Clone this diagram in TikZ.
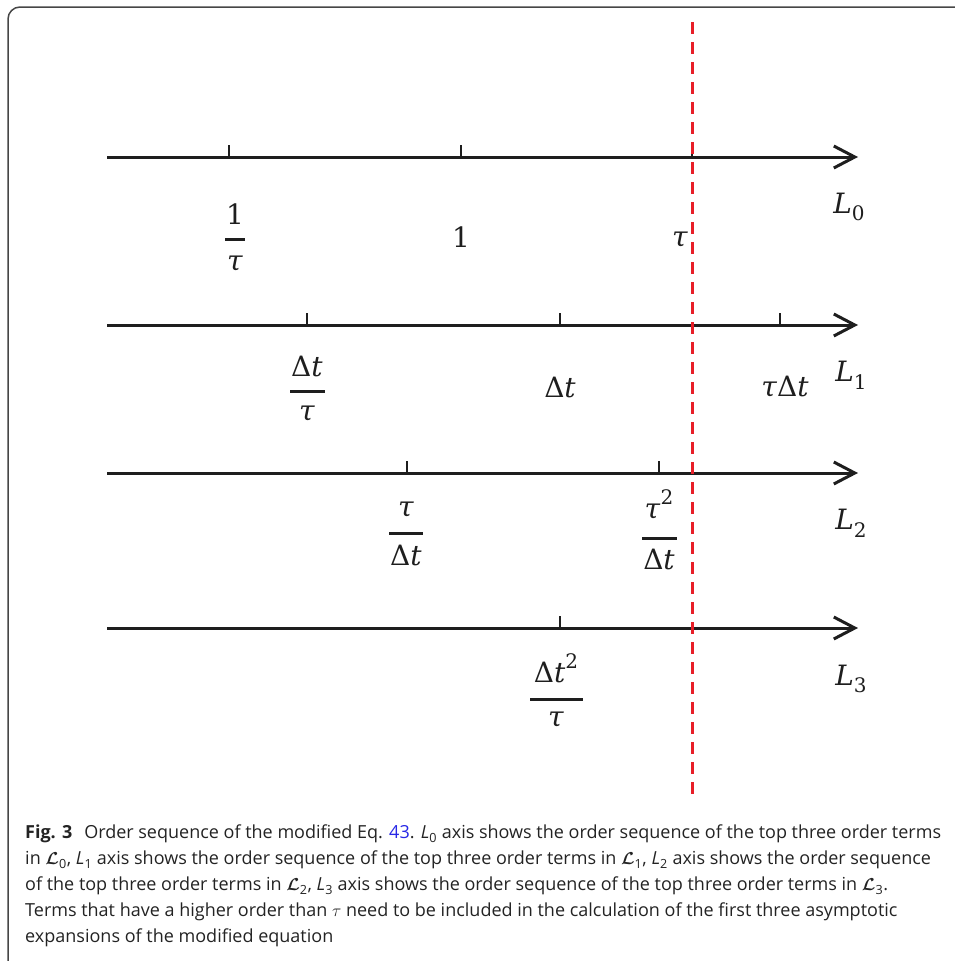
\documentclass[tikz,border=0pt]{standalone}
\usepackage{amsmath}
\usepackage{fontspec}
\newfontfamily\capfont{Open Sans}
\newfontfamily\mf{DejaVu Serif}
\usetikzlibrary{arrows.meta}
\definecolor{axisc}{RGB}{30,30,30}
\definecolor{redc}{RGB}{232,30,40}
\definecolor{framec}{RGB}{70,70,70}
\definecolor{linkc}{RGB}{40,40,230}
\definecolor{capc}{RGB}{35,35,35}
\newcommand\lsub[1]{\raisebox{-0.28em}{\fontsize{20}{20}\selectfont #1}}
\newcommand\lsup[1]{\raisebox{0.5em}{\fontsize{20}{20}\selectfont #1}}
\newcommand\mi[1]{\textit{#1}}
\tikzset{
  axis/.style={draw=axisc, line width=3pt, -{Straight Barb[length=21pt,width=22pt]}},
  tickmark/.style={draw=axisc, line width=2.5pt},
  fbar/.style={draw=axisc, line width=3pt},
  lab/.style={inner sep=0pt, text=axisc, font=\mf\fontsize{28}{32}\selectfont},
  reddash/.style={draw=redc, line width=3pt, dash pattern=on 12pt off 8pt},
  framel/.style={draw=framec, line width=1.5pt, rounded corners=12pt},
}
\begin{document}
\begin{tikzpicture}[x=1pt,y=-1pt]
\useasboundingbox (0,0) rectangle (954,961);
% frame
\draw[framel] (8,965) -- (8,7) -- (960,7);
% red dashed line
\coordinate (rtop) at (692,22);
\coordinate (rbot) at (692,797);
% axes
\coordinate (a0s) at (107,157); \coordinate (a0e) at (858,157);
\coordinate (a1s) at (107,325); \coordinate (a1e) at (858,325);
\coordinate (a2s) at (107,473); \coordinate (a2e) at (858,473);
\coordinate (a3s) at (107,628); \coordinate (a3e) at (858,628);
\draw[axis] (a0s) -- (a0e);
\draw[axis] (a1s) -- (a1e);
\draw[axis] (a2s) -- (a2e);
\draw[axis] (a3s) -- (a3e);
% ticks
\foreach \x in {229,461,692} \draw[tickmark] (\x,158) -- (\x,145);
\foreach \x in {307,560,780} \draw[tickmark] (\x,326) -- (\x,313);
\foreach \x in {407,659} \draw[tickmark] (\x,474) -- (\x,461);
\foreach \x in {560} \draw[tickmark] (\x,629) -- (\x,616);
\draw[reddash] (rtop) -- (rbot);
% axis names
\node[lab] (n0) at (849,207) {\mi{L}\lsub{0}};
\node[lab] (n1) at (851,375) {\mi{L}\lsub{1}};
\node[lab] (n2) at (851,523) {\mi{L}\lsub{2}};
\node[lab] (n3) at (851,679) {\mi{L}\lsub{3}};
% L0 labels
\node[lab] (f0n) at (235,214) {1};
\draw[fbar] (225,239) -- (245,239);
\node[lab] (f0d) at (235,264) {\mi{τ}};
\node[lab] (one) at (461,237) {1};
\node[lab] (tau) at (680,240) {\mi{τ}};
% L1 labels
\node[lab] (f1n) at (307,366) {Δ\mi{t}};
\draw[fbar] (290,391) -- (325,391);
\node[lab] (f1d) at (307,414) {\mi{τ}};
\node[lab] (dt) at (560,387) {Δ\mi{t}};
\node[lab] (taudt) at (785,387) {\mi{τ}Δ\mi{t}};
% L2 labels
\node[lab] (f2n) at (406,510) {\mi{τ}};
\node[lab] (f2d) at (406,555) {Δ\mi{t}};
\draw[fbar] (389,533) -- (423,533);
\node[lab] (f3n) at (659,505) {\mi{τ}\lsup{2}};
\draw[fbar] (642,538) -- (677,538);
\node[lab] (f3d) at (659,559) {Δ\mi{t}};
% L3 labels
\node[lab] (f4n) at (556,668) {Δ\mi{t}\lsup{2}};
\draw[fbar] (530,699) -- (583,699);
\node[lab] (f4d) at (556,720) {\mi{τ}};
% caption
\node[anchor=north west, inner sep=0pt, align=left, text=capc,
      font=\capfont\fontsize{18}{26}\selectfont] (cap) at (25,825)
{\textbf{Fig. 3}\hspace{0.4em} Order sequence of the modified Eq. \textcolor{linkc}{43}. \textit{L}\textsubscript{0} axis shows the order sequence of the top three order terms\\
in $\boldsymbol{\mathcal{L}}$\textsubscript{0}, \textit{L}\textsubscript{1} axis shows the order sequence of the top three order terms in $\boldsymbol{\mathcal{L}}$\textsubscript{1}, \textit{L}\textsubscript{2} axis shows the order sequence\\
of the top three order terms in $\boldsymbol{\mathcal{L}}$\textsubscript{2}, \textit{L}\textsubscript{3} axis shows the order sequence of the top three order terms in $\boldsymbol{\mathcal{L}}$\textsubscript{3}.\\
Terms that have a higher order than $\tau$ need to be included in the calculation of the first three asymptotic\\
expansions of the modified equation};
\end{tikzpicture}
\end{document}
